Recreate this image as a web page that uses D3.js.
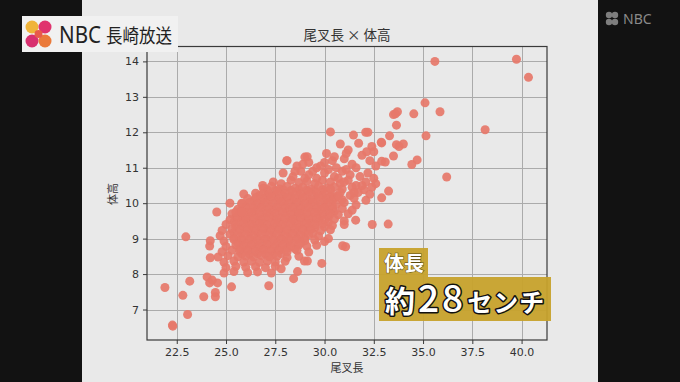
<!DOCTYPE html>
<html><head><meta charset="utf-8">
<script src="https://cdn.jsdelivr.net/npm/d3@7"></script>
<style>
html,body{margin:0;padding:0;background:#111;}
svg{display:block;}
</style></head>
<body>
<script>
// ---- data ----
const xTicks = [22.5, 25.0, 27.5, 30.0, 32.5, 35.0, 37.5, 40.0];
const yTicks = [7, 8, 9, 10, 11, 12, 13, 14];
const chartTitle = "尾叉長 × 体高";
const xLabel = "尾叉長";
const yLabel = "体高";
const captionTop = "体長";
const captionMain = ["約", "28", "センチ"];

// outlying fish (尾叉長, 体高)
const outliers = [
 [35.6,14.0],[39.74,14.06],[40.35,13.55],[35.1,12.83],[35.86,12.58],[34.53,12.52],
 [33.5,12.5],[33.7,12.58],[33.6,12.52],[33.65,12.2],[38.15,12.07],[35.15,11.9],
 [33.3,11.9],[32.88,11.72],[33.65,11.65],[34.0,11.67],[33.78,11.6],[33.5,11.33],
 [34.7,11.22],[34.43,11.09],[36.2,10.74],[33.23,9.41],[32.42,9.4],[33.25,10.34],
 [32.9,10.15],[30.3,12.01],[31.47,11.92],[32.09,12.0],[32.2,12.0],[30.8,11.67],
 [31.73,11.69],[32.4,11.6],[32.9,11.7],[33.08,11.16],[32.9,11.18],[28.08,11.2],
 [29.12,11.31],[21.9,7.62],[22.28,6.56],[22.3,6.53],[23.05,6.86],[22.81,7.4],
 [23.16,7.8],[22.96,9.05],[23.87,7.36],[24.46,7.36],[24.46,7.48],[24.57,7.75],
 [24.04,7.92],[24.3,7.83],[24.17,7.75],[25.28,7.64],[24.2,8.94],[24.17,8.79],
 [24.53,9.75],[24.2,8.46],[27.17,7.67],[28.43,7.87],[28.63,8.07],[29.86,8.3],
 [29.13,8.37],[28.98,8.37],[27.8,8.15],[30.2,9.0],[30.92,8.8],[31.07,8.77],
 [25.2,10.0],[25.8,10.0],[25.9,10.26],[26.86,10.5],[25.5,9.75],[25.8,9.75],
 [31.1,11.4],[32.14,11.45],[30.5,11.31],[31.58,9.52]
];

// main cloud of fish (尾叉長, 体高)
const mainGroup = [
 [28.1,11.2],[28.6,11.05],[29.0,11.3],[29.2,11.15],[29.6,11.0],[30.4,11.2],[30.6,11.0],[31.0,11.25],[31.4,11.1],[31.9,11.35],[32.3,11.2],[32.6,11.05],[30.1,11.4],[31.2,11.5],[32.5,11.45],
 [27.9,10.85],[28.4,10.75],[28.8,10.9],[29.2,10.8],[29.6,10.7],[30.0,10.85],[30.5,10.75],[30.9,10.9],[31.3,10.8],[31.8,10.75],[32.2,10.85],[32.5,10.7],
 [27.4,10.6],[27.8,10.55],[28.3,10.65],[28.7,10.58],[29.1,10.62],[29.5,10.55],[29.9,10.65],[30.3,10.6],[30.8,10.55],[31.2,10.65],[31.6,10.5],[32.1,10.6],[32.6,10.55],
 [26.9,10.42],[27.3,10.48],[27.7,10.4],[28.1,10.47],[28.5,10.42],[28.9,10.45],[29.3,10.4],[29.7,10.48],[30.1,10.43],[30.5,10.46],[30.9,10.4],[31.4,10.45],[32.0,10.38],[32.4,10.45],
 [26.5,10.28],[26.9,10.3],[27.2,10.25],[27.6,10.32],[28.0,10.27],[28.4,10.3],[28.8,10.25],[29.2,10.32],[29.6,10.28],[30.0,10.3],[30.4,10.25],[30.8,10.3],[31.3,10.22],[31.7,10.3],[32.3,10.25],
 [26.1,10.13],[26.5,10.15],[26.9,10.12],[27.3,10.17],[27.7,10.12],[28.1,10.16],[28.5,10.13],[28.9,10.15],[29.3,10.1],[29.7,10.17],[30.1,10.12],[30.5,10.15],[30.9,10.1],[31.5,10.14],[32.1,10.08],
 [25.8,9.98],[26.2,10.02],[26.6,9.97],[27.0,10.0],[27.4,9.98],[27.8,10.03],[28.2,9.97],[28.6,10.0],[29.0,9.98],[29.4,10.02],[29.8,9.96],[30.2,10.0],[30.6,9.97],[31.0,10.02],[31.6,9.95],
 [25.6,9.83],[26.0,9.87],[26.4,9.84],[26.8,9.86],[27.2,9.82],[27.6,9.87],[28.0,9.84],[28.4,9.86],[28.8,9.83],[29.2,9.87],[29.6,9.84],[30.0,9.86],[30.4,9.82],[30.9,9.85],[31.4,9.8],
 [25.3,9.7],[25.9,9.68],[26.3,9.72],[26.7,9.68],[27.1,9.71],[27.5,9.69],[27.9,9.72],[28.3,9.68],[28.7,9.71],[29.1,9.69],[29.5,9.72],[29.9,9.68],[30.3,9.7],[30.7,9.67],[31.2,9.7],
 [25.2,9.53],[25.6,9.57],[26.0,9.54],[26.4,9.56],[26.8,9.53],[27.2,9.57],[27.6,9.54],[28.0,9.56],[28.4,9.53],[28.8,9.57],[29.2,9.54],[29.6,9.56],[30.0,9.52],[30.5,9.55],[31.0,9.5],
 [25.0,9.4],[25.5,9.38],[25.9,9.42],[26.3,9.39],[26.7,9.41],[27.1,9.38],[27.5,9.42],[27.9,9.39],[28.3,9.41],[28.7,9.38],[29.1,9.42],[29.5,9.39],[29.9,9.41],[30.4,9.37],[31.0,9.4],
 [24.8,9.23],[25.3,9.27],[25.7,9.24],[26.1,9.26],[26.5,9.23],[26.9,9.27],[27.3,9.24],[27.7,9.26],[28.1,9.23],[28.5,9.27],[28.9,9.24],[29.3,9.26],[29.8,9.22],[30.3,9.25],
 [24.7,9.08],[25.2,9.12],[25.6,9.09],[26.0,9.11],[26.4,9.08],[26.8,9.12],[27.2,9.09],[27.6,9.11],[28.0,9.08],[28.4,9.12],[28.8,9.09],[29.2,9.11],[29.7,9.07],
 [24.9,8.93],[25.4,8.97],[25.8,8.94],[26.2,8.96],[26.6,8.93],[27.0,8.97],[27.4,8.94],[27.8,8.96],[28.2,8.93],[28.6,8.97],[29.0,8.94],[29.5,8.96],[30.0,8.92],
 [25.0,8.78],[25.5,8.82],[25.9,8.79],[26.3,8.81],[26.7,8.78],[27.1,8.82],[27.5,8.79],[27.9,8.81],[28.3,8.78],[28.7,8.82],[29.1,8.79],[29.6,8.81],
 [24.8,8.63],[25.3,8.67],[25.7,8.64],[26.1,8.66],[26.5,8.63],[26.9,8.67],[27.3,8.64],[27.7,8.66],[28.1,8.63],[28.6,8.67],[29.2,8.62],
 [24.6,8.48],[25.1,8.52],[25.6,8.49],[26.0,8.51],[26.4,8.48],[26.8,8.52],[27.2,8.49],[27.6,8.51],[28.1,8.47],[28.7,8.5],
 [24.9,8.33],[25.4,8.37],[25.9,8.34],[26.3,8.36],[26.7,8.33],[27.1,8.37],[27.5,8.34],[28.0,8.36],
 [25.0,8.18],[25.5,8.22],[26.0,8.19],[26.5,8.21],[27.0,8.18],[27.5,8.22],
 [24.9,8.03],[25.4,8.07],[26.1,8.04],[26.6,8.06],[27.3,8.03]
];

// upper-right part of the cloud (尾叉長, 体高)
const upperGroup = [
 [29.4,10.9],[29.8,11.05],[30.2,10.95],[30.7,10.7],[31.1,10.95],[29.0,10.7],[30.3,10.4],
 [31.0,10.6],[31.5,10.3],[31.9,10.5],[30.7,10.2],[28.5,10.9],[28.9,11.1],[30.0,11.15],[31.6,11.0]
];

// densest core of the cloud (尾叉長, 体高)
const coreGroup = [
 [27.1,10.37],[27.5,10.36],[27.9,10.38],[28.3,10.36],[28.7,10.38],[29.1,10.37],[29.5,10.36],[29.9,10.38],
 [26.7,10.22],[27.1,10.21],[27.5,10.23],[27.9,10.22],[28.3,10.2],[28.7,10.23],[29.1,10.22],[29.5,10.21],[29.9,10.23],[30.3,10.2],
 [26.4,10.07],[26.8,10.06],[27.2,10.08],[27.6,10.07],[28.0,10.05],[28.4,10.08],[28.8,10.07],[29.2,10.06],[29.6,10.08],[30.0,10.06],[30.4,10.07],
 [26.0,9.92],[26.4,9.91],[26.8,9.93],[27.2,9.92],[27.6,9.9],[28.0,9.93],[28.4,9.92],[28.8,9.91],[29.2,9.93],[29.6,9.92],[30.0,9.9],[30.4,9.93],
 [25.7,9.77],[26.1,9.76],[26.5,9.78],[26.9,9.77],[27.3,9.75],[27.7,9.78],[28.1,9.77],[28.5,9.76],[28.9,9.78],[29.3,9.77],[29.7,9.75],[30.1,9.78],[30.5,9.77],
 [25.5,9.62],[25.8,9.61],[26.2,9.63],[26.6,9.62],[27.0,9.6],[27.4,9.63],[27.8,9.62],[28.2,9.61],[28.6,9.63],[29.0,9.62],[29.4,9.6],[29.8,9.63],[30.2,9.62],
 [25.4,9.47],[25.7,9.46],[26.1,9.48],[26.5,9.47],[26.9,9.45],[27.3,9.48],[27.7,9.47],[28.1,9.46],[28.5,9.48],[28.9,9.47],[29.3,9.45],[29.7,9.48],[30.2,9.47],
 [25.5,9.32],[25.9,9.31],[26.3,9.33],[26.7,9.32],[27.1,9.3],[27.5,9.33],[27.9,9.32],[28.3,9.31],[28.7,9.33],[29.1,9.32],[29.5,9.3],[30.0,9.33],
 [25.4,9.17],[25.8,9.16],[26.2,9.18],[26.6,9.17],[27.0,9.15],[27.4,9.18],[27.8,9.17],[28.2,9.16],[28.6,9.18],[29.0,9.17],[29.4,9.15],
 [25.4,9.02],[25.8,9.01],[26.2,9.03],[26.6,9.02],[27.0,9.0],[27.4,9.03],[27.8,9.02],[28.2,9.01],[28.6,9.03],[29.0,9.02],
 [25.6,8.87],[26.0,8.86],[26.4,8.88],[26.8,8.87],[27.2,8.85],[27.6,8.88],[28.0,8.87],[28.4,8.86],[28.8,8.88],
 [25.7,8.72],[26.1,8.71],[26.5,8.73],[26.9,8.72],[27.3,8.7],[27.7,8.73],[28.1,8.72],[28.5,8.71],
 [25.8,8.57],[26.2,8.56],[26.6,8.58],[27.0,8.57],[27.4,8.55],[27.8,8.58]
];

// ---- drawing ----
const W = 680, H = 382;
const svg = d3.select("body").append("svg").attr("width", W).attr("height", H);

// screen background
svg.append("rect").attr("width", W).attr("height", H).attr("fill", "#121212");
svg.append("rect").attr("x", 82).attr("y", 0).attr("width", 516).attr("height", H).attr("fill", "#e9e9e9");

const plot = {left: 147, right: 547, top: 46.5, bottom: 340};
const x = d3.scaleLinear().domain([20.99, 41.29]).range([plot.left, plot.right]);
const y = d3.scaleLinear().domain([6.14, 14.42]).range([plot.bottom, plot.top]);

// grid
const grid = svg.append("g").attr("stroke", "#ababab").attr("stroke-width", 1);
grid.selectAll("line.gx").data(xTicks).join("line").attr("class", "gx")
  .attr("x1", d => Math.round(x(d)) + 0.5).attr("x2", d => Math.round(x(d)) + 0.5)
  .attr("y1", plot.top).attr("y2", plot.bottom);
grid.selectAll("line.gy").data(yTicks).join("line").attr("class", "gy")
  .attr("y1", d => Math.round(y(d)) + 0.5).attr("y2", d => Math.round(y(d)) + 0.5)
  .attr("x1", plot.left).attr("x2", plot.right);

// points
const allPts = coreGroup.concat(mainGroup, upperGroup, outliers);
svg.append("g").selectAll("circle").data(allPts).join("circle")
  .attr("cx", d => x(d[0])).attr("cy", d => y(d[1])).attr("r", 4.5)
  .attr("fill", "#e6796b").attr("fill-opacity", 0.93);

// frame
svg.append("rect").attr("x", plot.left).attr("y", plot.top)
  .attr("width", plot.right - plot.left).attr("height", plot.bottom - plot.top)
  .attr("fill", "none").attr("stroke", "#3a3a3a").attr("stroke-width", 1.2);

// axes
const xAxis = svg.append("g").attr("transform", `translate(0,${plot.bottom})`)
  .call(d3.axisBottom(x).tickValues(xTicks).tickFormat(d3.format(".1f")).tickSize(4).tickPadding(4));
const yAxis = svg.append("g").attr("transform", `translate(${plot.left},0)`)
  .call(d3.axisLeft(y).tickValues(yTicks).tickFormat(d3.format("d")).tickSize(4).tickPadding(4));
[xAxis, yAxis].forEach(a => {
  a.select(".domain").remove();
  a.selectAll(".tick line").attr("stroke", "#3a3a3a");
  a.selectAll(".tick text").attr("fill", "#333").style("font-family", "'DejaVu Sans'").style("font-size", "11px");
});

const jp = "'Noto Sans CJK JP', sans-serif";
svg.append("text").attr("x", 347).attr("y", 40).attr("text-anchor", "middle")
  .style("font-family", jp).style("font-size", "13.5px").attr("fill", "#333").text(chartTitle);
svg.append("text").attr("x", 347).attr("y", 372).attr("text-anchor", "middle")
  .style("font-family", jp).style("font-size", "11px").attr("fill", "#333").text(xLabel);
svg.append("text").attr("transform", "translate(117,194) rotate(-90)").attr("text-anchor", "middle")
  .style("font-family", jp).style("font-size", "11px").attr("fill", "#333").text(yLabel);

// caption
svg.append("rect").attr("x", 379).attr("y", 248).attr("width", 49).attr("height", 29)
  .attr("fill", "#c7a22c").attr("fill-opacity", 0.95);
svg.append("rect").attr("x", 379).attr("y", 277).attr("width", 172).attr("height", 44)
  .attr("fill", "#c7a22c").attr("fill-opacity", 0.95);
svg.append("text").attr("x", 384).attr("y", 271)
  .style("font-family", jp).style("font-size", "20px").style("font-weight", "700")
  .attr("fill", "#fff").attr("stroke", "#5a4a10").attr("stroke-width", 1).attr("paint-order", "stroke")
  .text(captionTop);
const cm = svg.append("text").attr("x", 385).attr("y", 312)
  .style("font-family", jp).style("font-weight", "700")
  .attr("fill", "#fff").attr("stroke", "#111").attr("stroke-width", 3).attr("paint-order", "stroke")
  .attr("stroke-linejoin", "round");
cm.append("tspan").style("font-size", "30px").text(captionMain[0]);
cm.append("tspan").attr("dx", 3).attr("letter-spacing", 3).style("font-size", "37px").style("font-weight", "500").text(captionMain[1]);
cm.append("tspan").attr("dx", 1).attr("letter-spacing", 1).style("font-size", "25px").text(captionMain[2]);

// broadcaster logo (top-left)
svg.append("rect").attr("x", 22).attr("y", 16).attr("width", 156).attr("height", 36).attr("fill", "#f1f1f1");
const lg = svg.append("g");
lg.append("circle").attr("cx", 32).attr("cy", 27).attr("r", 6.5).attr("fill", "#f0b43a");
lg.append("circle").attr("cx", 45).attr("cy", 27).attr("r", 6.5).attr("fill", "#e0336e");
lg.append("circle").attr("cx", 32).attr("cy", 41).attr("r", 6.5).attr("fill", "#d8306f");
lg.append("circle").attr("cx", 45).attr("cy", 41).attr("r", 6.5).attr("fill", "#ea7a3a");
lg.append("circle").attr("cx", 38.5).attr("cy", 34).attr("r", 4).attr("fill", "#e85a4a");
svg.append("text").attr("x", 59).attr("y", 43).attr("textLength", 42).attr("lengthAdjust", "spacingAndGlyphs")
  .style("font-family", "'Noto Sans', sans-serif")
  .style("font-size", "23px").attr("fill", "#222").text("NBC");
svg.append("text").attr("x", 106).attr("y", 43).attr("textLength", 66).attr("lengthAdjust", "spacingAndGlyphs")
  .style("font-family", jp).style("font-size", "19px").attr("fill", "#222").text("長崎放送");

// top-right channel bug
const rb = svg.append("g").attr("fill", "#7e7e7e");
[[609,15],[615,15],[609,22],[615,22]].forEach(p => rb.append("circle").attr("cx", p[0]).attr("cy", p[1]).attr("r", 3.2));
svg.append("text").attr("x", 623).attr("y", 24).style("font-family", "'Noto Sans', sans-serif")
  .style("font-size", "14px").attr("fill", "#8a8a8a").text("NBC");
</script>
</body></html>
